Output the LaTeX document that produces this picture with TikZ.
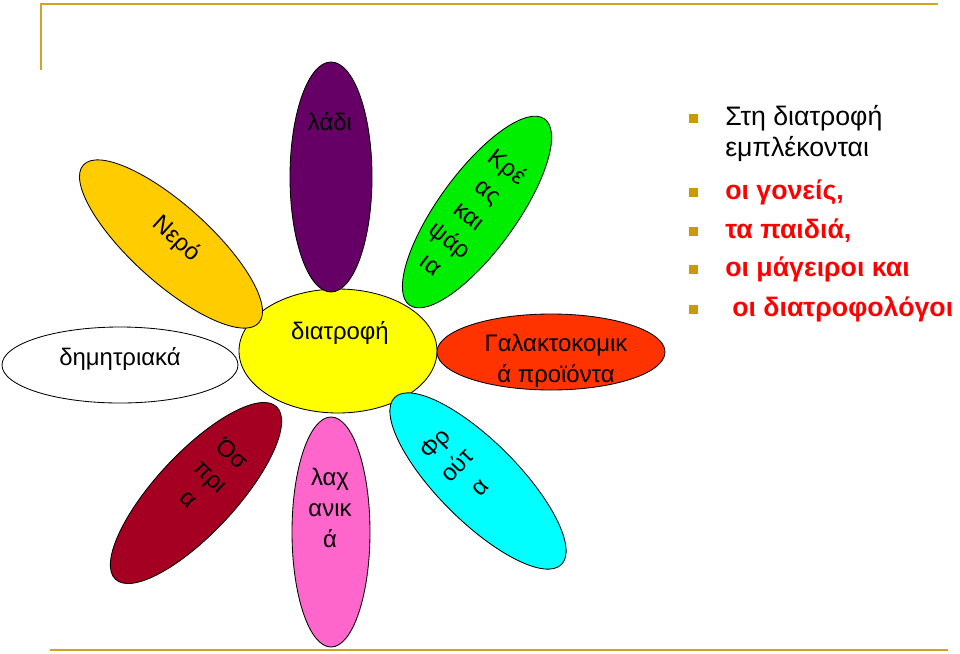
\documentclass[tikz,border=0pt]{standalone}
\usepackage{fontspec}
\setmainfont{Liberation Sans}
\usetikzlibrary{shapes.geometric}
\newcommand{\pxu}{0.025cm}
\definecolor{rulegold}{RGB}{214,162,38}
\definecolor{bulgold}{RGB}{204,153,0}
\definecolor{pwater}{RGB}{255,204,0}
\definecolor{poil}{RGB}{102,0,102}
\definecolor{pmeat}{RGB}{0,238,0}
\definecolor{pdairy}{RGB}{255,51,0}
\definecolor{pcentre}{RGB}{255,255,0}
\definecolor{ppulse}{RGB}{165,0,33}
\definecolor{pveg}{RGB}{255,102,204}
\definecolor{pfruit}{RGB}{0,255,255}

\begin{document}
\begin{tikzpicture}[
  x=\pxu, y=-\pxu,
  petal/.style={ellipse, draw=black, line width=0.6pt, inner sep=0pt},
  dims/.style 2 args={minimum width=#1*\pxu, minimum height=#2*\pxu},
  lbl/.style={font=\fontsize{17}{22}\selectfont, align=center, inner sep=0pt},
  bul/.style={fill=bulgold, minimum size=9*\pxu, inner sep=0pt},
  item/.style={anchor=base west, inner sep=0pt, font=\fontsize{19}{23}\selectfont},
  hot/.style={item, text=red, font=\fontsize{19}{23}\selectfont\bfseries},
  rule/.style={draw=rulegold, line width=2pt}
]
\useasboundingbox (0,0) rectangle (960,653);

% ================= FRAME =================
\draw[rule] (41,70) -- (41,4) -- (938,4);
\draw[rule] (50,650) -- (948,650);

% ================= FLOWER =================
\node[petal, fill=pcentre, dims={198}{124}] (core) at (338,351) {};
\node[petal, fill=white, dims={236}{76}] (cereal) at (120,365) {};
\node[petal, fill=pwater, dims={236}{78}, rotate=-42] (water) at (171,244) {};
\node[petal, fill=poil, dims={82}{230}] (oil) at (331,177) {};
\node[petal, fill=pmeat, dims={78}{230}, rotate=-36] (meat) at (477,212) {};
\node[petal, fill=pdairy, dims={228}{76}] (dairy) at (551,352) {};
\node[petal, fill=ppulse, dims={80}{236}, rotate=-43] (pulse) at (196,493) {};
\node[petal, fill=pveg, dims={78}{230}] (veg) at (331,532) {};
\node[petal, fill=pfruit, dims={80}{236}, rotate=45] (fruit) at (478,481) {};

\node[lbl] (tcore) at (340,333) {διατροφή};
\node[lbl] (tcereal) at (120,359) {δημητριακά};
\node[lbl, rotate=-42] (twater) at (176,239) {Νερό};
\node[lbl] (toil) at (330,122) {λάδι};
\node[lbl, rotate=-38] (tmeat) at (470,215) {Κρέ\\ας\\και\\ψάρ\\ια};
\node[lbl] (tdairy) at (556,361) {Γαλακτοκομικ\\ά προϊόντα};
\node[lbl, rotate=-44] (tpulse) at (211,476) {Όσ\\πρι\\α};
\node[lbl] (tveg) at (330,508) {λαχ\\ανικ\\ά};
\node[lbl, rotate=46] (tfruit) at (457,465) {Φρ\\ούτ\\α};

% ================= LIST =================
\node[bul] (b1) at (693,118) {};
\node[bul] (b2) at (693,192) {};
\node[bul] (b3) at (693,231) {};
\node[bul] (b4) at (693,269) {};
\node[bul] (b5) at (693,309) {};
\node[item] (l1) at (725,125) {Στη διατροφή};
\node[item] (l1b) at (725,156) {εμπλέκονται};
\node[hot] (l2) at (725,199) {οι γονείς,};
\node[hot] (l3) at (725,238) {τα παιδιά,};
\node[hot] (l4) at (725,276) {οι μάγειροι και};
\node[hot] (l5) at (732,316) {οι διατροφολόγοι};

\end{tikzpicture}
\end{document}
